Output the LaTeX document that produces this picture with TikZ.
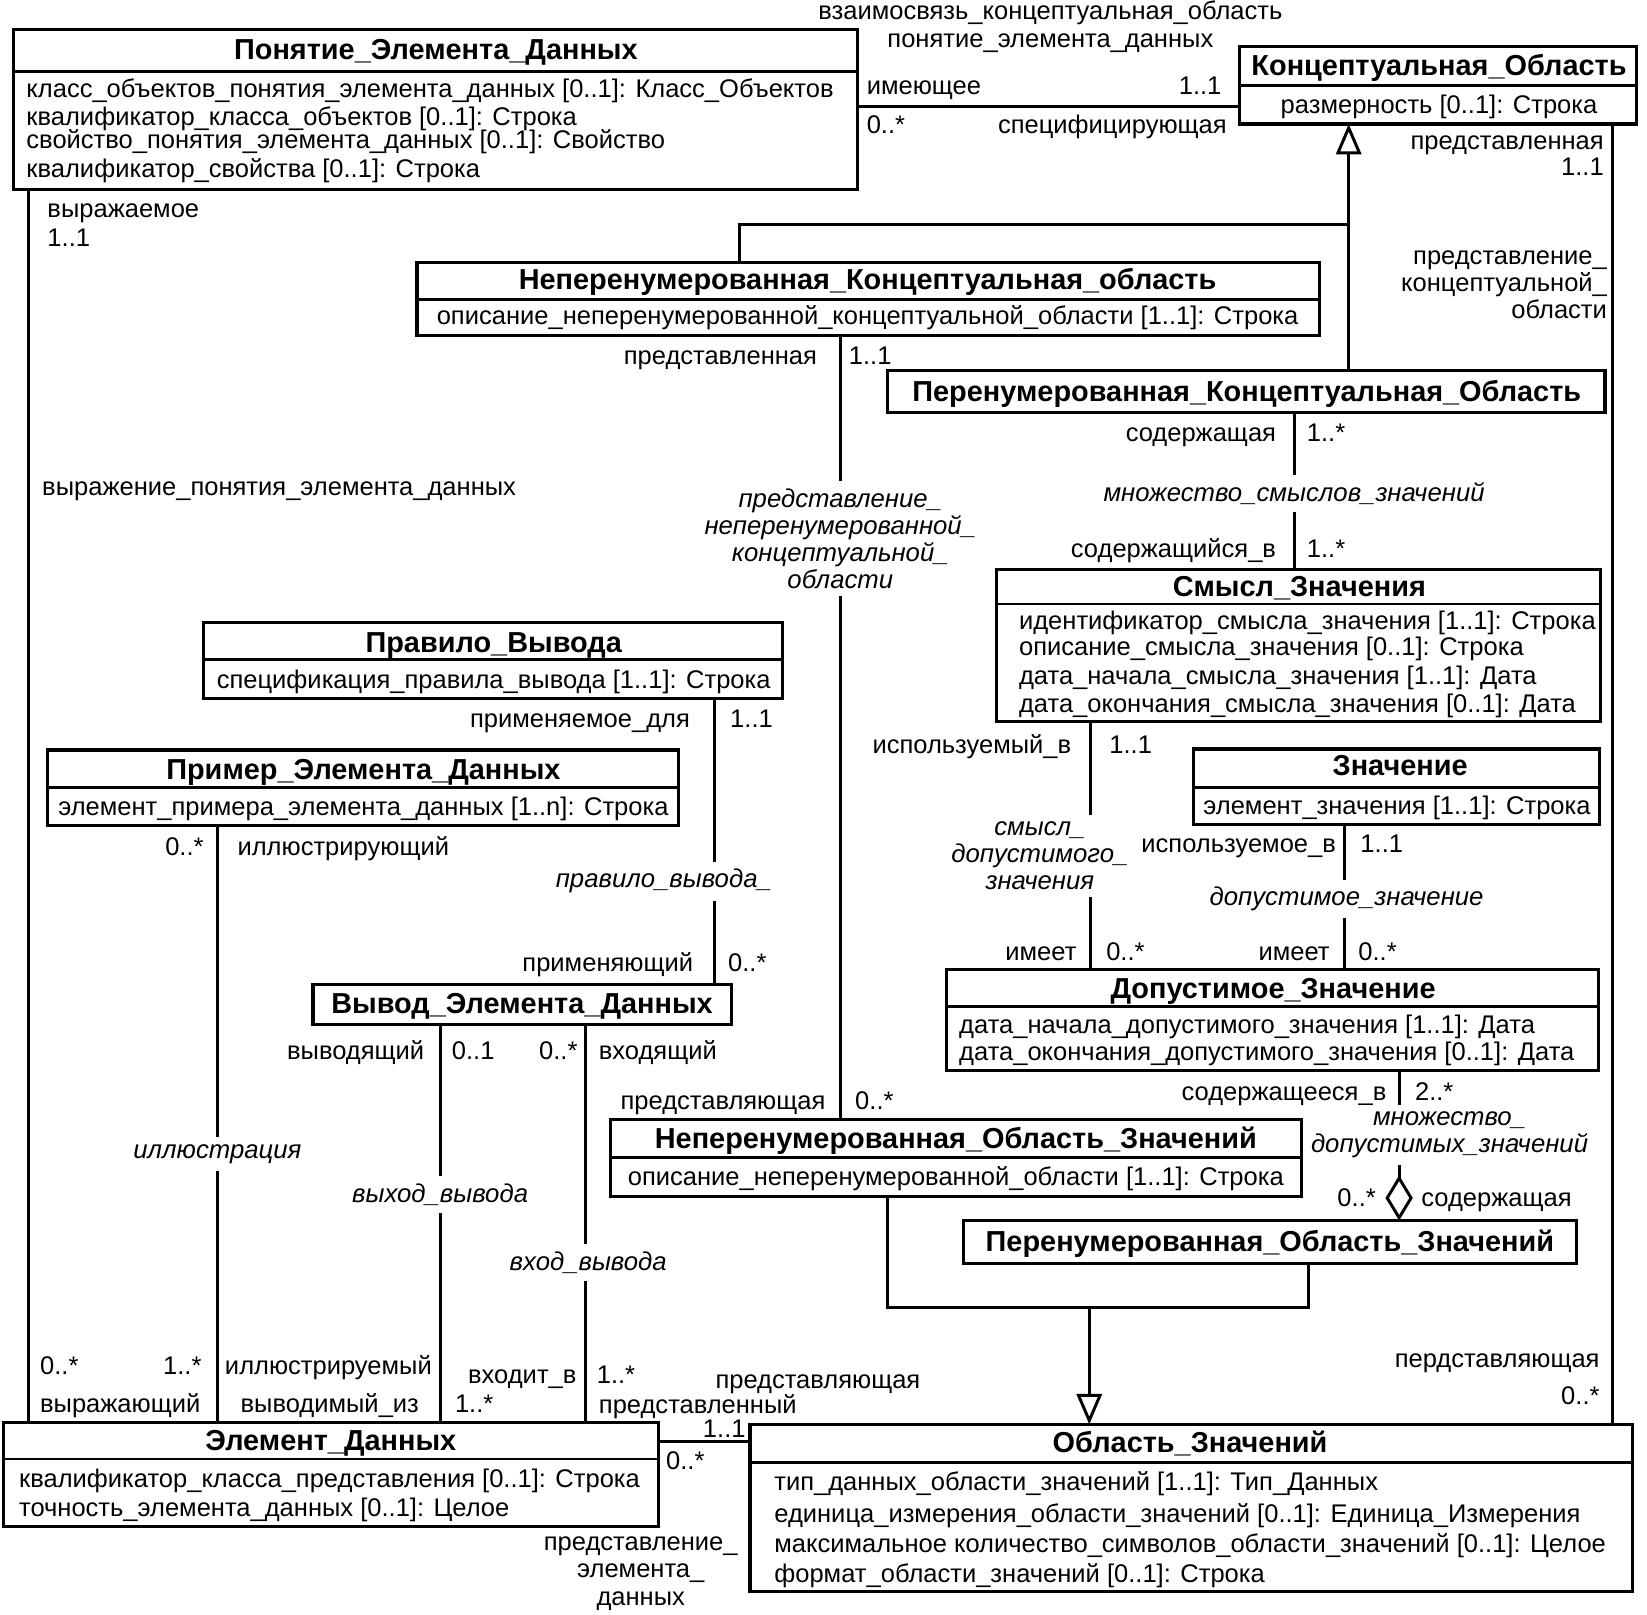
\documentclass[tikz,border=0pt]{standalone}
\usepackage{fontspec}
\setmainfont{Liberation Sans}
\usetikzlibrary{arrows.meta}
\begin{document}
\begin{tikzpicture}[x=1pt,y=-1pt,
  cls/.style={draw, line width=3pt, inner sep=0pt, outer sep=0pt, anchor=north west},
  ttl/.style={inner sep=0pt, text height=20pt, text depth=0pt, font=\fontsize{27.5}{31}\selectfont\bfseries},
  att/.style={inner sep=0pt, text height=17.4pt, text depth=0pt, font=\fontsize{24.3}{28}\selectfont},
  itl/.style={inner xsep=2pt, inner ysep=7pt, fill=white, align=center, font=\fontsize{24.5}{25.7}\selectfont\itshape},
  mtl/.style={inner sep=0pt, font=\fontsize{24.3}{26}\selectfont},
  conn/.style={line width=2.8pt},
  gen/.style={conn, -{Triangle[open, length=29pt, width=24pt, line width=2.8pt]}},
  agg/.style={conn, {Diamond[open, length=43pt, width=26pt, line width=2.8pt]}-},
  dv/.style={line width=2.8pt}
]
\useasboundingbox (0,0) rectangle (1568,1537.5);

% ---------------- classes ----------------
\node[cls, minimum width=803pt, minimum height=152pt] (pon) at (13,28) {};
\draw[dv] (pon.west |- 0,68) -- (pon.east |- 0,68);
\node[ttl] (pon-t) at (415,47) {Понятие\_Элемента\_Данных};
\node[att, anchor=west] (pon-a1) at (25,84) {класс\_объектов\_понятия\_элемента\_данных [0..1]: Класс\_Объектов};
\node[att, anchor=west] (pon-a2) at (25,111) {квалификатор\_класса\_объектов [0..1]: Строка};
\node[att, anchor=west] (pon-a3) at (25,133) {свойство\_понятия\_элемента\_данных [0..1]: Свойство};
\node[att, anchor=west] (pon-a4) at (25,160) {квалификатор\_свойства [0..1]: Строка};

\node[cls, minimum width=378pt, minimum height=74pt] (ko) at (1180,44) {};
\draw[dv] (ko.west |- 0,81) -- (ko.east |- 0,81);
\node[ttl] (ko-t) at (1370,62) {Концептуальная\_Область};
\node[att] (ko-a1) at (1370,99) {размерность [0..1]: Строка};

\node[cls, minimum width=859pt, minimum height=69pt] (nko) at (397,250) {};
\draw[dv] (nko.west |- 0,285) -- (nko.east |- 0,285);
\node[ttl] (nko-t) at (826,266) {Неперенумерованная\_Концептуальная\_область};
\node[att] (nko-a1) at (826,300) {описание\_неперенумерованной\_концептуальной\_области [1..1]: Строка};

\node[cls, minimum width=683pt, minimum height=40pt] (pko) at (845,353) {};
\node[ttl] (pko-t) at (1187,372) {Перенумерованная\_Концептуальная\_Область};

\node[cls, minimum width=575pt, minimum height=145pt] (sz) at (949,542) {};
\draw[dv] (sz.west |- 0,575) -- (sz.east |- 0,575);
\node[ttl] (sz-t) at (1237,558) {Смысл\_Значения};
\node[att, anchor=west] (sz-a1) at (970,591) {идентификатор\_смысла\_значения [1..1]: Строка};
\node[att, anchor=west] (sz-a2) at (970,615) {описание\_смысла\_значения [0..1]: Строка};
\node[att, anchor=west] (sz-a3) at (970,643) {дата\_начала\_смысла\_значения [1..1]: Дата};
\node[att, anchor=west] (sz-a4) at (970,670) {дата\_окончания\_смысла\_значения [0..1]: Дата};

\node[cls, minimum width=551pt, minimum height=72pt] (pv) at (194,593) {};
\draw[dv] (pv.west |- 0,628) -- (pv.east |- 0,628);
\node[ttl] (pv-t) at (470,611) {Правило\_Вывода};
\node[att] (pv-a1) at (470,647) {спецификация\_правила\_вывода [1..1]: Строка};

\node[cls, minimum width=601pt, minimum height=72pt] (ped) at (45,714) {};
\draw[dv] (ped.west |- 0,750) -- (ped.east |- 0,750);
\node[ttl] (ped-t) at (346,732) {Пример\_Элемента\_Данных};
\node[att] (ped-a1) at (346,768) {элемент\_примера\_элемента\_данных [1..n]: Строка};

\node[cls, minimum width=387pt, minimum height=72pt] (zn) at (1136,713) {};
\draw[dv] (zn.west |- 0,750) -- (zn.east |- 0,750);
\node[ttl] (zn-t) at (1333,728) {Значение};
\node[att] (zn-a1) at (1330,767) {элемент\_значения [1..1]: Строка};

\node[cls, minimum width=398pt, minimum height=38pt] (ved) at (298,937) {};
\node[ttl] (ved-t) at (497,955) {Вывод\_Элемента\_Данных};

\node[cls, minimum width=621pt, minimum height=96pt] (dz) at (901,923) {};
\draw[dv] (dz.west |- 0,958) -- (dz.east |- 0,958);
\node[ttl] (dz-t) at (1212,941) {Допустимое\_Значение};
\node[att, anchor=west] (dz-a1) at (913,975) {дата\_начала\_допустимого\_значения [1..1]: Дата};
\node[att, anchor=west] (dz-a2) at (913,1001) {дата\_окончания\_допустимого\_значения [0..1]: Дата};

\node[cls, minimum width=658pt, minimum height=73pt] (nov) at (581,1066) {};
\draw[dv] (nov.west |- 0,1102) -- (nov.east |- 0,1102);
\node[ttl] (nov-t) at (910,1083) {Неперенумерованная\_Область\_Значений};
\node[att] (nov-a1) at (910,1120) {описание\_неперенумерованной\_области [1..1]: Строка};

\node[cls, minimum width=584pt, minimum height=41pt] (pov) at (917,1162) {};
\node[ttl] (pov-t) at (1209,1181) {Перенумерованная\_Область\_Значений};

\node[cls, minimum width=624pt, minimum height=99pt] (ed) at (3,1354) {};
\draw[dv] (ed.west |- 0,1389) -- (ed.east |- 0,1389);
\node[ttl] (ed-t) at (315,1371) {Элемент\_Данных};
\node[att, anchor=west] (ed-a1) at (18,1407) {квалификатор\_класса\_представления [0..1]: Строка};
\node[att, anchor=west] (ed-a2) at (18,1435) {точность\_элемента\_данных [0..1]: Целое};

\node[cls, minimum width=840pt, minimum height=159pt] (ov) at (714,1356) {};
\draw[dv] (ov.west |- 0,1392) -- (ov.east |- 0,1392);
\node[ttl] (ov-t) at (1133,1373) {Область\_Значений};
\node[att, anchor=west] (ov-a1) at (737,1410) {тип\_данных\_области\_значений [1..1]: Тип\_Данных};
\node[att, anchor=west] (ov-a2) at (737,1441) {единица\_измерения\_области\_значений [0..1]: Единица\_Измерения};
\node[att, anchor=west] (ov-a3) at (737,1469) {максимальное количество\_символов\_области\_значений [0..1]: Целое};
\node[att, anchor=west] (ov-a4) at (737,1498) {формат\_области\_значений [0..1]: Строка};

% ---------------- connector positions ----------------
\coordinate (xL) at (27,0);
\coordinate (xIl) at (207,0);
\coordinate (xVy) at (419,0);
\coordinate (xVh) at (557,0);
\coordinate (xPr) at (680,0);
\coordinate (xNk) at (800,0);
\coordinate (xSm) at (1232,0);
\coordinate (xDs) at (1038,0);
\coordinate (xDz) at (1280,0);
\coordinate (xAg) at (1332,0);
\coordinate (xGk) at (1284,0);
\coordinate (xGl) at (704,0);
\coordinate (xR) at (1535,0);
\coordinate (xGn) at (845,0);
\coordinate (xGp) at (1246,0);
\coordinate (xGv) at (1037,0);
\coordinate (yGk) at (0,214);
\coordinate (yGv) at (0,1245);
\coordinate (yA) at (0,101);
\coordinate (yE) at (0,1372);

% ---------------- connectors ----------------
\draw[conn] (pon.east |- yA) -- (ko.west |- yA);
\draw[gen] (pko.north -| xGk) -- (ko.south -| xGk);
\draw[conn] (nko.north -| xGl) -- (xGl |- yGk) -- (xGk |- yGk);
\draw[conn] (ko.south -| xR) -- (ov.north -| xR);
\draw[conn] (pon.south -| xL) -- (ed.north -| xL);
\draw[conn] (nko.south -| xNk) -- (nov.north -| xNk);
\draw[conn] (pko.south -| xSm) -- (sz.north -| xSm);
\draw[conn] (sz.south -| xDs) -- (dz.north -| xDs);
\draw[conn] (zn.south -| xDz) -- (dz.north -| xDz);
\draw[agg] (pov.north -| xAg) -- (dz.south -| xAg);
\draw[conn] (pv.south -| xPr) -- (ved.north -| xPr);
\draw[conn] (ped.south -| xIl) -- (ed.north -| xIl);
\draw[conn] (ved.south -| xVy) -- (ed.north -| xVy);
\draw[conn] (ved.south -| xVh) -- (ed.north -| xVh);
\draw[conn] (nov.south -| xGn) -- (xGn |- yGv) -- (xGp |- yGv) -- (pov.south -| xGp);
\draw[gen] (xGv |- yGv) -- (ov.north -| xGv);
\draw[conn] (ed.east |- yE) -- (ov.west |- yE);

% ---------------- association labels ----------------
\node[mtl, align=center] (l-vz) at (1000,25.5) {взаимосвязь\_концептуальная\_область\\понятие\_элемента\_данных};
\node[att, anchor=west] (l-im) at (825,81) {имеющее};
\node[att, anchor=east] (l-11a) at (1163,81) {1..1};
\node[att, anchor=west] (l-0a) at (825,118) {0..*};
\node[att, anchor=east] (l-spec) at (1168,118) {специфицирующая};

\node[att, anchor=east] (l-pred) at (1527,134) {представленная};
\node[att, anchor=east] (l-11b) at (1527,158) {1..1};
\node[mtl, align=right, anchor=east] (l-pkob) at (1530,271) {представление\_\\концептуальной\_\\области};
\node[att, anchor=east] (l-perd) at (1523,1293) {пердставляющая};
\node[att, anchor=east] (l-0b) at (1523,1328) {0..*};

\node[att, anchor=west] (l-vyr) at (45,198) {выражаемое};
\node[att, anchor=west] (l-11c) at (45,226) {1..1};
\node[att, anchor=west] (l-vpe) at (40,463) {выражение\_понятия\_элемента\_данных};
\node[att, anchor=west] (l-0c) at (38,1300) {0..*};
\node[att, anchor=west] (l-vyrj) at (38,1336) {выражающий};

\node[att, anchor=east] (l-pred2) at (778,338) {представленная};
\node[att, anchor=west] (l-11d) at (808,338) {1..1};
\node[itl] (l-pnko) at (800,512.5) {представление\_\\неперенумерованной\_\\концептуальной\_\\области};
\node[att, anchor=east] (l-predst) at (786,1048) {представляющая};
\node[att, anchor=west] (l-0d) at (814,1048) {0..*};

\node[att, anchor=east] (l-sod) at (1215,412) {содержащая};
\node[att, anchor=west] (l-1e) at (1244,412) {1..*};
\node[itl] (l-msz) at (1232,470) {множество\_смыслов\_значений};
\node[att, anchor=east] (l-sodv) at (1215,522) {содержащийся\_в};
\node[att, anchor=west] (l-1f) at (1244,522) {1..*};

\node[att, anchor=east] (l-isp) at (1020,709) {используемый\_в};
\node[att, anchor=west] (l-11g) at (1056,709) {1..1};
\node[itl] (l-sdz) at (990,815) {смысл\_\\допустимого\_\\значения};
\node[att, anchor=east] (l-im1) at (1025,906) {имеет};
\node[att, anchor=west] (l-0h) at (1053,906) {0..*};

\node[att, anchor=east] (l-ispo) at (1272,803) {используемое\_в};
\node[att, anchor=west] (l-11i) at (1295,803) {1..1};
\node[itl] (l-dzn) at (1282,856) {допустимое\_значение};
\node[att, anchor=east] (l-im2) at (1266,906) {имеет};
\node[att, anchor=west] (l-0j) at (1293,906) {0..*};

\node[att, anchor=east] (l-sodz) at (1320,1039) {содержащееся\_в};
\node[att, anchor=west] (l-2k) at (1347,1039) {2..*};
\node[itl] (l-mdz) at (1380,1080.5) {множество\_\\допустимых\_значений};
\node[att, anchor=east] (l-0k) at (1310,1140) {0..*};
\node[att, anchor=west] (l-sodk) at (1353,1140) {содержащая};

\node[att, anchor=east] (l-prim) at (657,684) {применяемое\_для};
\node[att, anchor=west] (l-11l) at (695,684) {1..1};
\node[itl] (l-prv) at (632,839) {правило\_вывода\_};
\node[att, anchor=east] (l-prn) at (660,916) {применяющий};
\node[att, anchor=west] (l-0l) at (693,916) {0..*};

\node[att, anchor=east] (l-0m) at (194,806) {0..*};
\node[att, anchor=west] (l-ill) at (226,806) {иллюстрирующий};
\node[itl] (l-illu) at (207,1099) {иллюстрация};
\node[att, anchor=east] (l-1m) at (192,1300) {1..*};
\node[att, anchor=west] (l-illr) at (214,1300) {иллюстрируемый};

\node[att, anchor=east] (l-vyv) at (404,1000) {выводящий};
\node[att, anchor=west] (l-01n) at (430,1000) {0..1};
\node[itl] (l-vyh) at (419,1137) {выход\_вывода};
\node[att, anchor=east] (l-vyvi) at (399,1336) {выводимый\_из};
\node[att, anchor=west] (l-1n) at (433,1336) {1..*};

\node[att, anchor=east] (l-0o) at (550,1000) {0..*};
\node[att, anchor=west] (l-vh) at (570,1000) {входящий};
\node[itl] (l-vhv) at (560,1202) {вход\_вывода};
\node[att, anchor=east] (l-vhvb) at (549,1308) {входит\_в};
\node[att, anchor=west] (l-1o) at (568,1308) {1..*};

\node[att, anchor=west] (l-prsj) at (681,1313) {представляющая};
\node[att, anchor=west] (l-prsn) at (570,1337) {представленный};
\node[att, anchor=east] (l-11p) at (710,1360) {1..1};
\node[att, anchor=west] (l-0p) at (634,1390) {0..*};
\node[mtl, align=center] (l-ped) at (610,1498) {представление\_\\элемента\_\\данных};
\end{tikzpicture}
\end{document}
